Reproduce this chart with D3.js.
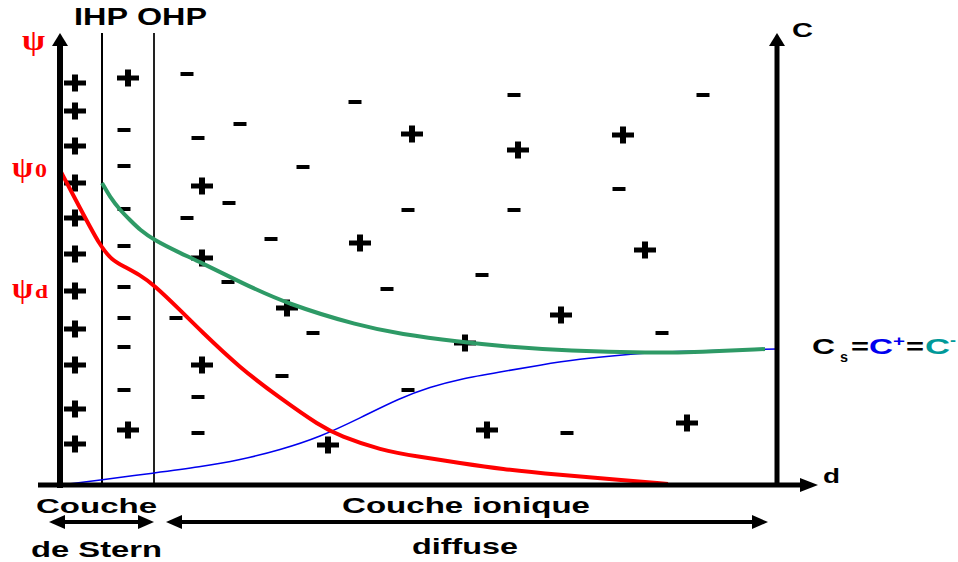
<!DOCTYPE html>
<html>
<head>
<meta charset="utf-8">
<script src="https://cdn.jsdelivr.net/npm/d3@7"></script>
<style>
  html, body { margin: 0; padding: 0; background: #fff; }
  svg { display: block; }
  .sans { font-family: "Liberation Sans", Arial, sans-serif; font-weight: bold; }
  .serif { font-family: "Liberation Serif", "Times New Roman", serif; font-weight: bold; }
</style>
</head>
<body>
<svg id="chart" width="958" height="562"></svg>
<script>
// Distance from the electrode (d) and potential / concentration values, arbitrary units
const ihpPos = 4.2;
const ohpPos = 9.4;

// Potential ψ(d)
const psiCurve = [
  [0, 31.6], [2, 27.8], [4, 24.0], [5.2, 22.6], [6.3, 22.0], [8, 21.1], [9.4, 20.1],
  [12, 17.6], [14, 15.6], [18, 11.8], [22, 8.8], [26, 6.0], [28, 5.0], [32, 3.6],
  [36, 2.9], [40, 2.3], [44, 1.7], [50, 1.1], [56, 0.6], [60.8, 0.2]
];
// Anion concentration C-(d)
const anionCurve = [
  [4.2, 30.3], [5, 28.9], [6, 27.6], [7, 26.6], [8, 25.6], [9.4, 24.6], [12, 23.3],
  [14, 22.4], [18, 20.4], [22.7, 18.2], [30, 16.0], [34, 15.2], [40, 14.4], [44, 14.0],
  [51, 13.5], [59, 13.3], [64, 13.4], [70.5, 13.7]
];
// Cation concentration C+(d)
const cationCurve = [
  [0, 0.1], [4, 0.6], [9.4, 1.3], [14, 1.9], [18, 2.6], [22, 3.6], [26, 4.9], [30, 6.8],
  [34, 8.8], [37, 9.9], [40, 10.7], [44, 11.4], [48, 12.1], [52, 12.7], [56, 13.1],
  [60, 13.4], [64, 13.5], [71.7, 13.7]
];

// Charges: [d, level]
const plusCharges = [
  [1.5, 40.3], [1.5, 37.5], [1.5, 34.0], [1.5, 30.3], [1.5, 26.8], [1.5, 23.2],
  [1.5, 19.5], [1.5, 15.7], [1.5, 12.1], [1.5, 7.7], [1.5, 4.2],
  [6.8, 40.8], [6.8, 5.6],
  [14.2, 30.0], [14.2, 22.8], [35.2, 35.2], [45.8, 33.6], [56.3, 35.1], [30.0, 24.3],
  [58.5, 23.6], [22.7, 17.8], [50.1, 17.1], [40.5, 14.3], [14.2, 12.1], [26.8, 4.1],
  [42.7, 5.6], [62.7, 6.3]
];
const minusCharges = [
  [6.4, 35.6], [6.4, 32.0], [6.4, 27.7], [6.4, 24.0], [6.4, 19.9], [6.4, 16.8],
  [6.4, 13.9], [6.4, 9.6],
  [12.7, 41.2], [29.5, 38.4], [45.4, 39.1], [64.3, 39.1], [18.0, 36.2], [13.8, 34.8],
  [24.3, 31.9], [16.9, 28.3], [12.7, 26.8], [34.8, 27.6], [45.4, 27.6], [55.9, 29.7],
  [21.1, 24.7], [16.8, 20.4], [32.7, 19.7], [42.2, 21.1], [11.6, 16.8], [25.3, 15.3],
  [60.2, 15.3], [22.2, 11.0], [13.8, 8.9], [34.8, 9.6], [13.8, 5.3], [50.7, 5.3]
];

const psiLabels = [{ sub: "0", v: 31.6, dy: 7 }, { sub: "d", v: 20.1, dy: 13 }];
const bulkLevel = 13.7;

const svg = d3.select("#chart");
const x = d3.scaleLinear().domain([0, 71.7]).range([60, 777]);
const y = d3.scaleLinear().domain([0, 45.3]).range([486, 33]);

const xMax = x.domain()[1];
const yTop = y.domain()[1];

// Helmholtz planes
svg.selectAll("line.plane").data([ihpPos, ohpPos]).join("line")
  .attr("class", "plane")
  .attr("x1", d => x(d)).attr("x2", d => x(d))
  .attr("y1", y(yTop)).attr("y2", y(0))
  .attr("stroke", (d, i) => i === 0 ? "#000" : "#222")
  .attr("stroke-width", 2);

// Charges
const plusPath = "M-11,-2.5H-3V-8.5H3V-2.5H11V2.5H3V8.5H-3V2.5H-11Z";
const minusPath = "M-6.5,-2H6.5V2H-6.5Z";
svg.append("g").selectAll("path").data(plusCharges).join("path")
  .attr("d", plusPath)
  .attr("transform", d => `translate(${x(d[0])},${y(d[1])})`)
  .attr("fill", "#000");
svg.append("g").selectAll("path").data(minusCharges).join("path")
  .attr("d", minusPath)
  .attr("transform", d => `translate(${x(d[0])},${y(d[1])})`)
  .attr("fill", "#000");

// Curves
const line = d3.line().x(d => x(d[0])).y(d => y(d[1])).curve(d3.curveBasis);
svg.append("path").datum(cationCurve).attr("d", line)
  .attr("fill", "none").attr("stroke", "#0000ee").attr("stroke-width", 1.5);
svg.append("path").datum(anionCurve).attr("d", line)
  .attr("fill", "none").attr("stroke", "#2e9a66").attr("stroke-width", 4);
svg.append("path").datum(psiCurve).attr("d", line)
  .attr("fill", "none").attr("stroke", "#ff0000").attr("stroke-width", 4);

// Axes
const axisG = svg.append("g");
// left ψ axis
axisG.append("line").attr("x1", x(0)).attr("x2", x(0))
  .attr("y1", y(0) + 2).attr("y2", y(yTop) + 10)
  .attr("stroke", "#000").attr("stroke-width", 6);
axisG.append("path")
  .attr("d", `M${x(0)},${y(yTop)}L${x(0) + 8},${y(yTop) + 13}L${x(0) - 8},${y(yTop) + 13}Z`)
  .attr("fill", "#000");
// right C axis
axisG.append("line").attr("x1", x(xMax)).attr("x2", x(xMax))
  .attr("y1", y(0)).attr("y2", y(yTop) + 10)
  .attr("stroke", "#000").attr("stroke-width", 5);
axisG.append("path")
  .attr("d", `M${x(xMax)},${y(yTop)}L${x(xMax) + 8},${y(yTop) + 13}L${x(xMax) - 8},${y(yTop) + 13}Z`)
  .attr("fill", "#000");
// bottom d axis
axisG.append("line").attr("x1", 38).attr("x2", 806)
  .attr("y1", y(0) - 1).attr("y2", y(0) - 1)
  .attr("stroke", "#000").attr("stroke-width", 5);
axisG.append("path")
  .attr("d", `M818,${y(0) - 1}L800,${y(0) - 8}L800,${y(0) + 6}Z`)
  .attr("fill", "#000");

// Double arrows under the axis
function doubleArrow(x1, x2, yy) {
  const g = svg.append("g");
  g.append("line").attr("x1", x1 + 10).attr("x2", x2 - 10)
    .attr("y1", yy).attr("y2", yy).attr("stroke", "#000").attr("stroke-width", 4);
  g.append("path").attr("d", `M${x1},${yy}L${x1 + 16},${yy - 7}L${x1 + 16},${yy + 7}Z`).attr("fill", "#000");
  g.append("path").attr("d", `M${x2},${yy}L${x2 - 16},${yy - 7}L${x2 - 16},${yy + 7}Z`).attr("fill", "#000");
}
doubleArrow(49, x(ohpPos), 522);
doubleArrow(166, 768, 522);

// Text helper
function label(txt, px, py, size, width, cls, color, anchor) {
  const t = svg.append("text").attr("class", cls || "sans")
    .attr("x", px).attr("y", py)
    .attr("font-size", size)
    .attr("fill", color || "#000")
    .text(txt);
  if (anchor) t.attr("text-anchor", anchor);
  if (width) t.attr("textLength", width).attr("lengthAdjust", "spacingAndGlyphs");
  return t;
}

label("IHP", 74, 25, 24, 54);
label("OHP", 137, 25, 24, 70);
label("C", 792, 37, 20, 21);
label("d", 823, 483, 21, 17);

label("ψ", 22, 50, 30, 23, "serif", "#ff0000");
psiLabels.forEach(p => {
  label("ψ", 12, y(p.v) + p.dy, 30, 21, "serif", "#ff0000");
  label(p.sub, 35, y(p.v) + p.dy, 18, p.sub === "0" ? 12 : 13, "serif", "#ff0000");
});

label("Couche", 36, 513, 21, 121);
label("de Stern", 31, 557, 22, 131);
label("Couche ionique", 342, 513, 22, 248);
label("diffuse", 412, 554, 22, 106);

// Bulk concentration label
const by = y(bulkLevel) + 5;
label("C", 812, by, 22, 23);
label("s", 840, by + 8, 14, 8);
label("=", 851, by, 22, 18);
label("C", 869, by, 22, 24, "sans", "#0000ee");
label("+", 893, by - 8, 15, 12, "sans", "#0000ee");
label("=", 906, by, 22, 18);
label("C", 925, by, 22, 25, "sans", "#009999");
label("-", 950, by - 9, 15, 6, "sans", "#009999");
</script>
</body>
</html>
